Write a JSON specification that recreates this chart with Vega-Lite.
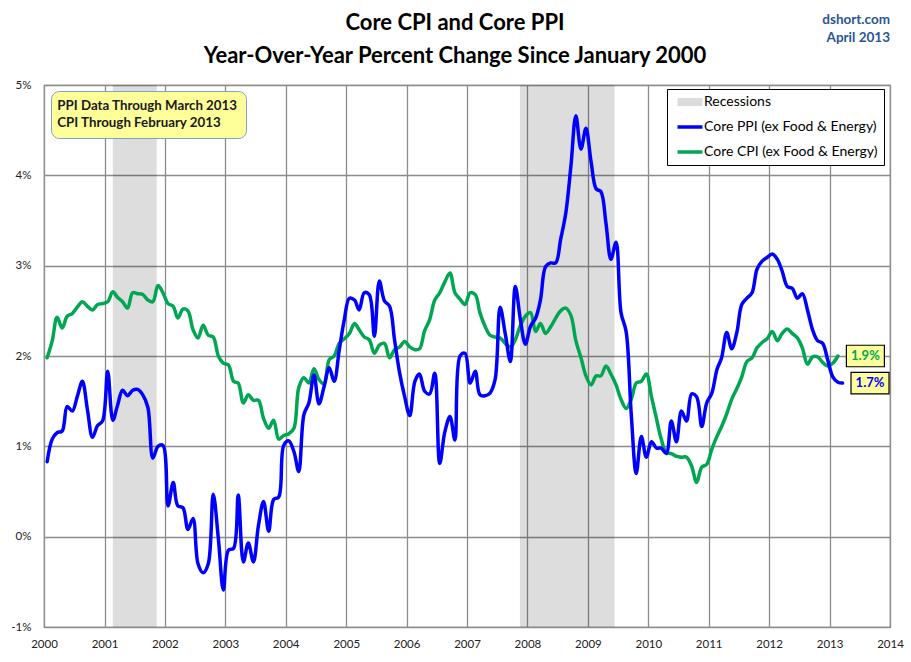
{
  "$schema": "https://vega.github.io/schema/vega-lite/v6.json",
  "width": 846,
  "height": 542,
  "autosize": {"type": "none"},
  "padding": {"left": 44, "top": 85, "right": 21, "bottom": 35},
  "background": "white",
  "config": {
    "font": "Lato",
    "view": {"stroke": "#8c8c8c", "strokeWidth": 1.2},
    "axis": {
      "gridColor": "#8c8c8c",
      "gridWidth": 1.3,
      "domain": false,
      "ticks": false,
      "labelFont": "Lato",
      "labelFontSize": 11.5,
      "labelColor": "#222222",
      "title": null
    }
  },
  "title": {
    "text": "Core CPI and Core PPI",
    "subtitle": "Year-Over-Year Percent Change Since January 2000",
    "anchor": "middle",
    "font": "Lato",
    "subtitleFont": "Lato",
    "fontSize": 22,
    "subtitleFontSize": 22,
    "fontWeight": "bold",
    "subtitleFontWeight": "bold",
    "color": "black",
    "subtitleColor": "black",
    "offset": -55,
    "subtitlePadding": 11,
    "dx": -12
  },
  "datasets": {
    "series": [
      {"date": "2000-01-20", "ppi": 0.83, "cpi": 1.98},
      {"date": "2000-02-20", "ppi": 1.08, "cpi": 2.17},
      {"date": "2000-03-20", "ppi": 1.15, "cpi": 2.43},
      {"date": "2000-04-20", "ppi": 1.17, "cpi": 2.31},
      {"date": "2000-05-20", "ppi": 1.44, "cpi": 2.44},
      {"date": "2000-06-20", "ppi": 1.39, "cpi": 2.47},
      {"date": "2000-07-20", "ppi": 1.55, "cpi": 2.54},
      {"date": "2000-08-20", "ppi": 1.72, "cpi": 2.60},
      {"date": "2000-09-20", "ppi": 1.40, "cpi": 2.55},
      {"date": "2000-10-20", "ppi": 1.10, "cpi": 2.51},
      {"date": "2000-11-20", "ppi": 1.23, "cpi": 2.57},
      {"date": "2000-12-20", "ppi": 1.28, "cpi": 2.58},
      {"date": "2001-01-20", "ppi": 1.83, "cpi": 2.60},
      {"date": "2001-02-20", "ppi": 1.29, "cpi": 2.71},
      {"date": "2001-03-20", "ppi": 1.45, "cpi": 2.65},
      {"date": "2001-04-20", "ppi": 1.62, "cpi": 2.60},
      {"date": "2001-05-20", "ppi": 1.56, "cpi": 2.53},
      {"date": "2001-06-20", "ppi": 1.62, "cpi": 2.70},
      {"date": "2001-07-20", "ppi": 1.63, "cpi": 2.69},
      {"date": "2001-08-20", "ppi": 1.57, "cpi": 2.68},
      {"date": "2001-09-20", "ppi": 1.43, "cpi": 2.62},
      {"date": "2001-10-20", "ppi": 0.87, "cpi": 2.60},
      {"date": "2001-11-20", "ppi": 1.00, "cpi": 2.78},
      {"date": "2001-12-20", "ppi": 1.01, "cpi": 2.70},
      {"date": "2002-01-20", "ppi": 0.34, "cpi": 2.58},
      {"date": "2002-02-20", "ppi": 0.60, "cpi": 2.55},
      {"date": "2002-03-20", "ppi": 0.34, "cpi": 2.42},
      {"date": "2002-04-20", "ppi": 0.32, "cpi": 2.52},
      {"date": "2002-05-20", "ppi": 0.08, "cpi": 2.50},
      {"date": "2002-06-20", "ppi": 0.20, "cpi": 2.29},
      {"date": "2002-07-20", "ppi": -0.30, "cpi": 2.20},
      {"date": "2002-08-20", "ppi": -0.40, "cpi": 2.34},
      {"date": "2002-09-20", "ppi": -0.30, "cpi": 2.23},
      {"date": "2002-10-20", "ppi": 0.47, "cpi": 2.21},
      {"date": "2002-11-20", "ppi": -0.02, "cpi": 2.00},
      {"date": "2002-12-20", "ppi": -0.59, "cpi": 1.92},
      {"date": "2003-01-20", "ppi": -0.15, "cpi": 1.90},
      {"date": "2003-02-20", "ppi": -0.13, "cpi": 1.72},
      {"date": "2003-03-20", "ppi": 0.46, "cpi": 1.70},
      {"date": "2003-04-20", "ppi": -0.28, "cpi": 1.48},
      {"date": "2003-05-20", "ppi": -0.07, "cpi": 1.57},
      {"date": "2003-06-20", "ppi": -0.28, "cpi": 1.51},
      {"date": "2003-07-20", "ppi": 0.12, "cpi": 1.51},
      {"date": "2003-08-20", "ppi": 0.39, "cpi": 1.31},
      {"date": "2003-09-20", "ppi": 0.06, "cpi": 1.20},
      {"date": "2003-10-20", "ppi": 0.41, "cpi": 1.29},
      {"date": "2003-11-20", "ppi": 0.44, "cpi": 1.08},
      {"date": "2003-12-20", "ppi": 1.01, "cpi": 1.12},
      {"date": "2004-01-20", "ppi": 1.06, "cpi": 1.14},
      {"date": "2004-02-20", "ppi": 0.94, "cpi": 1.20},
      {"date": "2004-03-20", "ppi": 0.72, "cpi": 1.65},
      {"date": "2004-04-20", "ppi": 1.35, "cpi": 1.76},
      {"date": "2004-05-20", "ppi": 1.48, "cpi": 1.70},
      {"date": "2004-06-20", "ppi": 1.79, "cpi": 1.86},
      {"date": "2004-07-20", "ppi": 1.47, "cpi": 1.74},
      {"date": "2004-08-20", "ppi": 1.66, "cpi": 1.69},
      {"date": "2004-09-20", "ppi": 1.87, "cpi": 1.96},
      {"date": "2004-10-20", "ppi": 1.72, "cpi": 2.00},
      {"date": "2004-11-20", "ppi": 2.07, "cpi": 2.14},
      {"date": "2004-12-20", "ppi": 2.40, "cpi": 2.19},
      {"date": "2005-01-20", "ppi": 2.64, "cpi": 2.25},
      {"date": "2005-02-20", "ppi": 2.62, "cpi": 2.36},
      {"date": "2005-03-20", "ppi": 2.51, "cpi": 2.29},
      {"date": "2005-04-20", "ppi": 2.70, "cpi": 2.21},
      {"date": "2005-05-20", "ppi": 2.68, "cpi": 2.18},
      {"date": "2005-06-20", "ppi": 2.22, "cpi": 2.03},
      {"date": "2005-07-20", "ppi": 2.83, "cpi": 2.12},
      {"date": "2005-08-20", "ppi": 2.61, "cpi": 2.14},
      {"date": "2005-09-20", "ppi": 2.55, "cpi": 1.98},
      {"date": "2005-10-20", "ppi": 2.18, "cpi": 2.07},
      {"date": "2005-11-20", "ppi": 1.81, "cpi": 2.10},
      {"date": "2005-12-20", "ppi": 1.55, "cpi": 2.16},
      {"date": "2006-01-20", "ppi": 1.34, "cpi": 2.10},
      {"date": "2006-02-20", "ppi": 1.72, "cpi": 2.07},
      {"date": "2006-03-20", "ppi": 1.80, "cpi": 2.08},
      {"date": "2006-04-20", "ppi": 1.61, "cpi": 2.28},
      {"date": "2006-05-20", "ppi": 1.58, "cpi": 2.40},
      {"date": "2006-06-20", "ppi": 1.81, "cpi": 2.62},
      {"date": "2006-07-20", "ppi": 0.81, "cpi": 2.70},
      {"date": "2006-08-20", "ppi": 1.16, "cpi": 2.82},
      {"date": "2006-09-20", "ppi": 1.33, "cpi": 2.92},
      {"date": "2006-10-20", "ppi": 1.07, "cpi": 2.70},
      {"date": "2006-11-20", "ppi": 2.00, "cpi": 2.63},
      {"date": "2006-12-20", "ppi": 2.03, "cpi": 2.57},
      {"date": "2007-01-20", "ppi": 1.70, "cpi": 2.70},
      {"date": "2007-02-20", "ppi": 1.83, "cpi": 2.68},
      {"date": "2007-03-20", "ppi": 1.57, "cpi": 2.48},
      {"date": "2007-04-20", "ppi": 1.56, "cpi": 2.33},
      {"date": "2007-05-20", "ppi": 1.59, "cpi": 2.23},
      {"date": "2007-06-20", "ppi": 1.74, "cpi": 2.21},
      {"date": "2007-07-20", "ppi": 2.54, "cpi": 2.20},
      {"date": "2007-08-20", "ppi": 2.25, "cpi": 2.14},
      {"date": "2007-09-20", "ppi": 1.94, "cpi": 2.10},
      {"date": "2007-10-20", "ppi": 2.77, "cpi": 2.18},
      {"date": "2007-11-20", "ppi": 2.40, "cpi": 2.34},
      {"date": "2007-12-20", "ppi": 2.13, "cpi": 2.44},
      {"date": "2008-01-20", "ppi": 2.33, "cpi": 2.48},
      {"date": "2008-02-20", "ppi": 2.42, "cpi": 2.27},
      {"date": "2008-03-20", "ppi": 2.62, "cpi": 2.36},
      {"date": "2008-04-20", "ppi": 2.99, "cpi": 2.25},
      {"date": "2008-05-20", "ppi": 3.03, "cpi": 2.32},
      {"date": "2008-06-20", "ppi": 3.03, "cpi": 2.42},
      {"date": "2008-07-20", "ppi": 3.29, "cpi": 2.50},
      {"date": "2008-08-20", "ppi": 3.58, "cpi": 2.53},
      {"date": "2008-09-20", "ppi": 4.10, "cpi": 2.45},
      {"date": "2008-10-20", "ppi": 4.66, "cpi": 2.17},
      {"date": "2008-11-20", "ppi": 4.29, "cpi": 1.98},
      {"date": "2008-12-20", "ppi": 4.52, "cpi": 1.78},
      {"date": "2009-01-20", "ppi": 4.15, "cpi": 1.68},
      {"date": "2009-02-20", "ppi": 3.85, "cpi": 1.78},
      {"date": "2009-03-20", "ppi": 3.82, "cpi": 1.78},
      {"date": "2009-04-20", "ppi": 3.47, "cpi": 1.89},
      {"date": "2009-05-20", "ppi": 3.07, "cpi": 1.80},
      {"date": "2009-06-20", "ppi": 3.26, "cpi": 1.68},
      {"date": "2009-07-20", "ppi": 2.48, "cpi": 1.52},
      {"date": "2009-08-20", "ppi": 2.27, "cpi": 1.42},
      {"date": "2009-09-20", "ppi": 1.35, "cpi": 1.52},
      {"date": "2009-10-20", "ppi": 0.70, "cpi": 1.70},
      {"date": "2009-11-20", "ppi": 1.11, "cpi": 1.72},
      {"date": "2009-12-20", "ppi": 0.88, "cpi": 1.80},
      {"date": "2010-01-20", "ppi": 1.05, "cpi": 1.55},
      {"date": "2010-02-20", "ppi": 0.98, "cpi": 1.30},
      {"date": "2010-03-20", "ppi": 0.98, "cpi": 1.08},
      {"date": "2010-04-20", "ppi": 0.92, "cpi": 0.93},
      {"date": "2010-05-20", "ppi": 1.28, "cpi": 0.92},
      {"date": "2010-06-20", "ppi": 1.05, "cpi": 0.89},
      {"date": "2010-07-20", "ppi": 1.39, "cpi": 0.88},
      {"date": "2010-08-20", "ppi": 1.28, "cpi": 0.88},
      {"date": "2010-09-20", "ppi": 1.58, "cpi": 0.78},
      {"date": "2010-10-20", "ppi": 1.55, "cpi": 0.60},
      {"date": "2010-11-20", "ppi": 1.22, "cpi": 0.77},
      {"date": "2010-12-20", "ppi": 1.48, "cpi": 0.80},
      {"date": "2011-01-20", "ppi": 1.59, "cpi": 0.97},
      {"date": "2011-02-20", "ppi": 1.85, "cpi": 1.11},
      {"date": "2011-03-20", "ppi": 1.98, "cpi": 1.22},
      {"date": "2011-04-20", "ppi": 2.26, "cpi": 1.36},
      {"date": "2011-05-20", "ppi": 2.08, "cpi": 1.52},
      {"date": "2011-06-20", "ppi": 2.26, "cpi": 1.64},
      {"date": "2011-07-20", "ppi": 2.57, "cpi": 1.77},
      {"date": "2011-08-20", "ppi": 2.64, "cpi": 1.94},
      {"date": "2011-09-20", "ppi": 2.70, "cpi": 1.98},
      {"date": "2011-10-20", "ppi": 2.96, "cpi": 2.09},
      {"date": "2011-11-20", "ppi": 3.05, "cpi": 2.15},
      {"date": "2011-12-20", "ppi": 3.09, "cpi": 2.19},
      {"date": "2012-01-20", "ppi": 3.13, "cpi": 2.27},
      {"date": "2012-02-20", "ppi": 3.07, "cpi": 2.17},
      {"date": "2012-03-20", "ppi": 2.94, "cpi": 2.25},
      {"date": "2012-04-20", "ppi": 2.77, "cpi": 2.30},
      {"date": "2012-05-20", "ppi": 2.75, "cpi": 2.25},
      {"date": "2012-06-20", "ppi": 2.64, "cpi": 2.20},
      {"date": "2012-07-20", "ppi": 2.69, "cpi": 2.09},
      {"date": "2012-08-20", "ppi": 2.51, "cpi": 1.91},
      {"date": "2012-09-20", "ppi": 2.29, "cpi": 1.99},
      {"date": "2012-10-20", "ppi": 2.17, "cpi": 1.99},
      {"date": "2012-11-20", "ppi": 2.14, "cpi": 1.93},
      {"date": "2012-12-20", "ppi": 1.96, "cpi": 1.89},
      {"date": "2013-01-20", "ppi": 1.77, "cpi": 1.92},
      {"date": "2013-02-20", "ppi": 1.71, "cpi": 2.00},
      {"date": "2013-03-20", "ppi": 1.70}
    ],
    "recessions": [
      {"start": "2001-02-20", "end": "2001-11-12"},
      {"start": "2007-11-17", "end": "2009-06-11"}
    ],
    "notes": [
      {"note": "PPI Data Through March 2013"},
      {"note": "CPI Through February 2013"}
    ],
    "endLabels": [
      {"series": "cpi", "date": "2013-02-20", "value": 2.0, "label": "1.9%"},
      {"series": "ppi", "date": "2013-03-20", "value": 1.7, "label": "1.7%"}
    ],
    "credits": [
      {"line": "dshort.com", "row": 0},
      {"line": "April 2013", "row": 1}
    ]
  },
  "layer": [
    {
      "data": {"name": "recessions"},
      "mark": {"type": "rect", "fill": "black", "fillOpacity": 0.135},
      "encoding": {
        "x": {
          "field": "start",
          "type": "temporal",
          "scale": {
            "type": "utc",
            "domain": [
              {"year": 2000, "month": 1, "date": 1, "utc": true},
              {"year": 2014, "month": 1, "date": 1, "utc": true}
            ],
            "nice": false
          },
          "axis": {
            "tickCount": {"interval": "year", "step": 1},
            "labelExpr": "utcFormat(datum.value, '%Y')",
            "labelPadding": 11,
            "labelFlush": false,
            "labelOverlap": false,
            "grid": true
          }
        },
        "x2": {"field": "end"}
      }
    },
    {
      "mark": {"type": "rule", "color": "black", "strokeWidth": 2},
      "encoding": {"y": {"datum": 0}}
    },
    {
      "data": {"name": "series"},
      "transform": [
        {"fold": ["cpi", "ppi"], "as": ["series", "value"]},
        {"filter": "isValid(datum.value)"}
      ],
      "mark": {"type": "line", "interpolate": "catmull-rom", "strokeWidth": 3.5, "strokeCap": "round", "strokeJoin": "round"},
      "encoding": {
        "x": {"field": "date", "type": "temporal"},
        "y": {
          "field": "value",
          "type": "quantitative",
          "scale": {"domain": [-1, 5], "nice": false, "zero": false},
          "axis": {
            "values": [-1, 0, 1, 2, 3, 4, 5],
            "labelExpr": "datum.value + '%'",
            "labelPadding": 13,
            "grid": true
          }
        },
        "color": {
          "field": "series",
          "type": "nominal",
          "scale": {
            "domain": ["Recessions", "ppi", "cpi"],
            "range": ["#dcdcdc", "#0000ff", "#00a651"]
          },
          "legend": {
            "title": null,
            "orient": "none",
            "direction": "vertical",
            "legendX": 623,
            "legendY": 4,
            "symbolType": "stroke",
            "symbolSize": 625,
            "symbolStrokeWidth": 3.5,
            "symbolOffset": 10,
            "labelFont": "Lato",
            "labelFontSize": 14,
            "labelColor": "black",
            "labelLimit": 300,
            "labelOffset": 7,
            "padding": 6,
            "rowPadding": 2,
            "gridAlign": "all",
            "fillColor": "white",
            "strokeColor": "black",
            "labelExpr": "datum.label === 'ppi' ? 'Core PPI (ex Food & Energy)' : datum.label === 'cpi' ? 'Core CPI (ex Food & Energy)' : datum.label",
            "encode": {
              "symbols": {
                "update": {
                  "strokeWidth": {"signal": "datum.value === 'Recessions' ? 8 : 3.5"}
                }
              }
            }
          }
        }
      }
    },
    {
      "data": {"name": "notes"},
      "mark": {"type": "point", "opacity": 0},
      "encoding": {
        "shape": {
          "field": "note",
          "type": "nominal",
          "scale": {"domain": ["PPI Data Through March 2013", "CPI Through February 2013"]},
          "legend": {
            "title": null,
            "orient": "none",
            "direction": "vertical",
            "legendX": 7,
            "legendY": 6,
            "symbolOpacity": 0,
            "symbolSize": 1,
            "labelOffset": -15,
            "labelFont": "Lato",
            "labelFontSize": 13.3,
            "labelFontWeight": "bold",
            "labelColor": "#1a1a1a",
            "labelLimit": 300,
            "fillColor": "#ffff99",
            "strokeColor": "#7f9fd0",
            "cornerRadius": 8,
            "padding": 8,
            "rowPadding": 3.5
          }
        }
      }
    },
    {
      "data": {"name": "endLabels"},
      "mark": {
        "type": "point",
        "shape": "M-1,-0.566H1V0.566H-1Z",
        "size": 1444,
        "filled": true,
        "fill": "#ffff99",
        "stroke": "black",
        "strokeWidth": 1.2,
        "opacity": 1,
        "xOffset": 27.5
      },
      "encoding": {
        "x": {"field": "date", "type": "temporal"},
        "y": {"field": "value", "type": "quantitative"}
      }
    },
    {
      "data": {"name": "endLabels"},
      "mark": {
        "type": "text",
        "font": "Lato",
        "fontSize": 13,
        "fontWeight": "bold",
        "align": "center",
        "baseline": "middle",
        "xOffset": 27.5
      },
      "encoding": {
        "x": {"field": "date", "type": "temporal"},
        "y": {"field": "value", "type": "quantitative"},
        "text": {"field": "label"},
        "color": {
          "condition": {"test": "datum.series === 'cpi'", "value": "#00a651"},
          "value": "#0000ff"
        }
      }
    },
    {
      "data": {"name": "credits"},
      "mark": {
        "type": "text",
        "font": "Lato",
        "fontSize": 13.5,
        "fontWeight": "bold",
        "color": "#2a5597",
        "align": "right",
        "baseline": "middle"
      },
      "encoding": {
        "text": {"field": "line"},
        "x": {"datum": {"year": 2014, "month": 1, "date": 1, "utc": true}, "type": "temporal"},
        "y": {"datum": 5},
        "yOffset": {"field": "row", "type": "quantitative", "scale": {"domain": [0, 1], "range": [-65, -47]}, "legend": null}
      }
    }
  ]
}
